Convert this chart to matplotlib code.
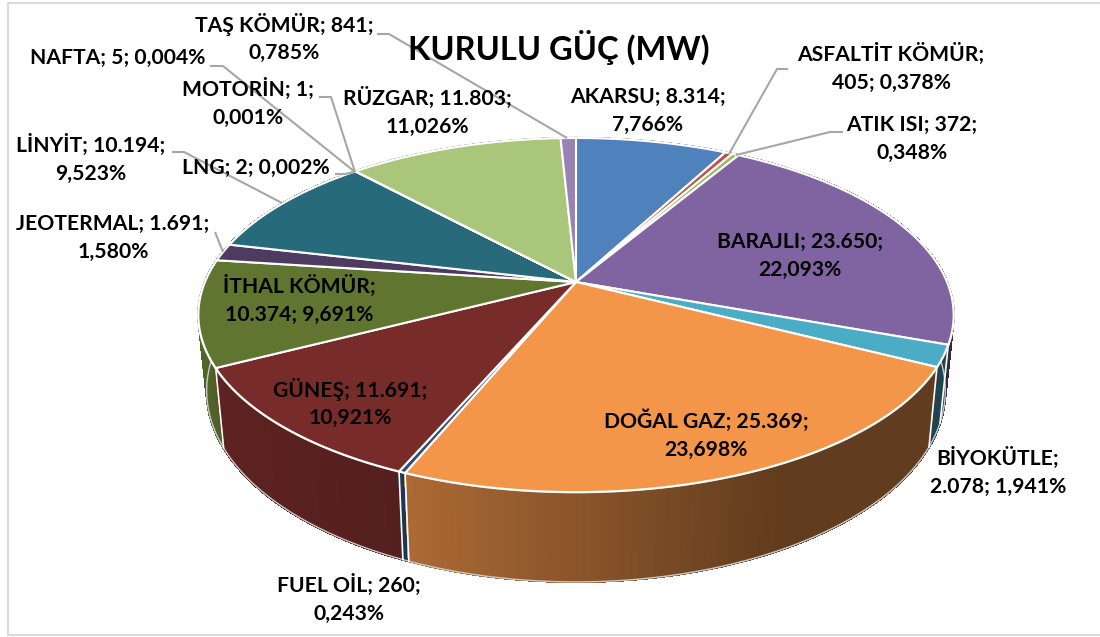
import numpy as np
import matplotlib
matplotlib.use("Agg")
import matplotlib.pyplot as plt
from matplotlib.collections import PolyCollection

names = ["AKARSU", "ASFALTİT KÖMÜR", "ATIK ISI", "BARAJLI", "BİYOKÜTLE", "DOĞAL GAZ",
         "FUEL OİL", "GÜNEŞ", "İTHAL KÖMÜR", "JEOTERMAL", "LİNYİT", "LNG",
         "MOTORİN", "NAFTA", "RÜZGAR", "TAŞ KÖMÜR"]
values = [8314, 405, 372, 23650, 2078, 25369, 260, 11691, 10374, 1691, 10194, 2, 1, 5, 11803, 841]
percents = ["7,766%", "0,378%", "0,348%", "22,093%", "1,941%", "23,698%", "0,243%", "10,921%",
            "9,691%", "1,580%", "9,523%", "0,002%", "0,001%", "0,004%", "11,026%", "0,785%"]
breaks = ["v", "n", "v", "v", "n", "v", "v", "v", "n", "v", "v", "-", "v", "-", "v", "v"]
colors = ["#4F81BD", "#C0504D", "#9BBB59", "#8064A2", "#4BACC6", "#F4964A", "#2C4D75", "#772C2A",
          "#5F7530", "#4D3B62", "#276A7C", "#B65708", "#3B6AA0", "#A5403D", "#AAC67A", "#9983B5"]
title = "KURULU GÜÇ (MW)"

label_pos = [(648, 111), (891, 68), (912, 139), (800, 256), (998, 472), (706, 435),
             (349, 599), (350, 403), (299, 300), (113, 238), (91, 159), (256, 168),
             (248, 103), (118, 58), (427, 112), (284, 38)]

leaders = {
    "TAŞ": [(377, 34), (389, 34), (567, 138)],
    "NAFTA": [(210, 66), (223, 66), (355, 172)],
    "MOTORİN": [(319, 97), (331, 97), (355, 172)],
    "LNG": [(335, 174), (345, 174), (355, 172)],
    "LİNYİT": [(172, 152), (184, 152), (282, 203)],
    "JEOTERMAL": [(215, 232), (223, 252)],
    "ASFALTİT": [(788, 69), (777, 69), (729, 154)],
    "ATIK": [(843, 132), (830, 132), (736, 155)],
}

CX, CY = 576, 282
R, B, K = 371, 170.9, 0.1866
BOT_X, BOT_Y, DEPTH = 0.978, 1.08, 73


def top(t):
    X, Y = np.sin(t), np.cos(t)
    d = 1 + K * Y
    return R * X / d, -B * Y / d


def to_px(sx, sy):
    return np.column_stack([CX + sx, CY + sy])


def bottom(t):
    sx, sy = top(t)
    return BOT_X * sx, BOT_Y * sy + DEPTH


def shade(x):
    return np.interp(x, [205, 223, 400, 780], [0.86, 0.78, 0.71, 0.40])


fig = plt.figure(figsize=(11, 6.37), dpi=100)
ax = fig.add_axes([0, 0, 1, 1])
ax.set_xlim(0, 1100)
ax.set_ylim(637, 0)
ax.axis("off")

# frame
ax.plot([1100, 8, 8, 1100], [3, 3, 635, 635], color="#D9D9D9", lw=1.5, zorder=0)

vals = np.array(values, float)
edges = np.concatenate([[0], np.cumsum(vals)]) / vals.sum() * 2 * np.pi

# side wall strips
polys, fcs = [], []
keys = []
for i, c in enumerate(colors):
    a0, a1 = edges[i], edges[i + 1]
    n = max(2, int((a1 - a0) / 0.006))
    ts = np.linspace(a0, a1, n + 1)
    base = np.array(matplotlib.colors.to_rgb(c))
    for u, v in zip(ts[:-1], ts[1:]):
        t = np.array([u, v])
        p_top = to_px(*top(t))
        p_bot = to_px(*bottom(t))
        polys.append(np.vstack([p_top, p_bot[::-1]]))
        fcs.append(np.clip(base * shade(p_top[:, 0].mean()), 0, 1))
        keys.append(p_top[:, 1].mean())
order = np.argsort(keys)
ax.add_collection(PolyCollection([polys[j] for j in order], facecolors=[fcs[j] for j in order],
                                 edgecolors=[fcs[j] for j in order], linewidths=1.0,
                                 antialiaseds=False, zorder=2))

# silhouette of the bottom rim
t = np.linspace(np.pi / 2, 3 * np.pi / 2, 300)
b = to_px(*bottom(t))
ax.plot(b[:, 0], b[:, 1], color="#C8C8C8", lw=1.0, zorder=3)

# white seams on the wall
for e in edges:
    if np.cos(e) < 0.0:
        p0 = to_px(*top(np.array([e])))[0]
        p1 = to_px(*bottom(np.array([e])))[0]
        ax.plot([p0[0], p1[0]], [p0[1], p1[1]], color="white", lw=1.2, zorder=4)

# outer rim (light grey halo)
t = np.linspace(0, 2 * np.pi, 600)
o = to_px(*top(t))
ax.plot(o[:, 0], o[:, 1], color="#C8C8C8", lw=1.8, zorder=4.5)

# top faces
for i, c in enumerate(colors):
    t = np.linspace(edges[i], edges[i + 1], max(3, int((edges[i + 1] - edges[i]) / 0.005)))
    p = to_px(*top(t))
    pts = np.vstack([[CX, CY], p])
    ax.fill(pts[:, 0], pts[:, 1], facecolor=c, edgecolor="white", lw=1.5, joinstyle="miter", zorder=5)

# leader lines
for pts in leaders.values():
    xs, ys = zip(*pts)
    ax.plot(xs, ys, color="#A6A6A6", lw=1.5, zorder=6, solid_capstyle="butt")


def fmt(v):
    return f"{v:,}".replace(",", ".")


for n, v, p, br, (x, y) in zip(names, values, percents, breaks, label_pos):
    if br == "v":
        s = f"{n}; {fmt(v)};\n{p}"
    elif br == "n":
        s = f"{n};\n{fmt(v)}; {p}"
    else:
        s = f"{n}; {fmt(v)}; {p}"
    ax.text(x, y, s, ha="center", va="center", family="Lato", weight="bold", fontsize=15.2,
            color="black", linespacing=1.48, zorder=8)

ax.text(559, 47, title, ha="center", va="center", family="Lato", weight="bold", fontsize=23.5,
        color="black", zorder=8)

fig.savefig("out.png", dpi=100)
